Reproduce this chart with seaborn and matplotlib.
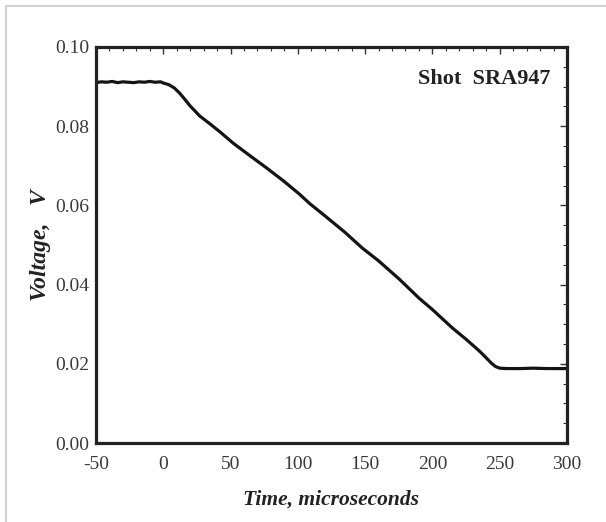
import numpy as np
import pandas as pd
import matplotlib.pyplot as plt
import seaborn as sns
from matplotlib.ticker import MultipleLocator
from matplotlib.lines import Line2D

# Values
time_us = [-50, -46, -42, -38, -34, -30, -26, -22, -18, -14, -10, -6, -2, 0,
           4, 8, 12, 16, 20, 27, 35, 42, 52, 65, 77, 90, 101, 109, 120, 135, 148,
           160, 175, 190, 200, 215, 225, 235, 240, 244, 247, 250, 255,
           265, 275, 285, 295, 300]
voltage = [0.0910, 0.0912, 0.0911, 0.0913, 0.0910, 0.0912, 0.0911, 0.0910,
           0.0912, 0.0911, 0.0913, 0.0911, 0.0912, 0.0909,
           0.0905, 0.0897, 0.0884, 0.0868, 0.0851, 0.0826, 0.0805, 0.0786,
           0.0757, 0.0724, 0.0694,
           0.0660, 0.0629, 0.0604, 0.0574, 0.0532, 0.0492,
           0.0460, 0.0415, 0.0366, 0.0337, 0.0290, 0.0262, 0.0232, 0.0215,
           0.0201, 0.0193, 0.0189, 0.0188,
           0.0188, 0.0189, 0.0188, 0.0188, 0.0188]

x_ticks = [-50, 0, 50, 100, 150, 200, 250, 300]
y_ticks = [0.00, 0.02, 0.04, 0.06, 0.08, 0.10]

df = pd.DataFrame({"t": time_us, "v": voltage})

sns.set_style("white")
plt.rcParams["font.family"] = ["Liberation Serif", "DejaVu Serif"]

fig = plt.figure(figsize=(6.06, 5.22), dpi=100)
ax = fig.add_axes([0.1584, 0.1513, 0.7772, 0.7587])

sns.lineplot(data=df, x="t", y="v", ax=ax, color="#141414", linewidth=2.3)

ax.set_xlim(-50, 300)
ax.set_ylim(0, 0.10)
ax.set_xticks(x_ticks)
ax.set_yticks(y_ticks)
ax.set_xticklabels([str(t) for t in x_ticks])
ax.set_yticklabels([f"{v:.2f}" for v in y_ticks])
ax.xaxis.set_minor_locator(MultipleLocator(10))
ax.yaxis.set_minor_locator(MultipleLocator(0.005))
ax.tick_params(which="both", direction="in", top=True, right=True,
               color="#333333", labelsize=14, labelcolor="#3a3a3a")
ax.tick_params(axis="x", which="major", pad=9)
ax.tick_params(axis="y", which="major", pad=5)
ax.tick_params(which="major", length=5, width=1)
ax.tick_params(which="minor", length=3, width=0.8)
for s in ax.spines.values():
    s.set_linewidth(2.3)
    s.set_color("#222222")

ax.set_xlabel("Time, microseconds", fontsize=15.5, fontweight="bold",
              fontstyle="italic", color="#222222", labelpad=12)
ax.set_ylabel("Voltage,   V", fontsize=17, fontweight="bold",
              fontstyle="italic", color="#222222", labelpad=3)

ax.text(0.964, 0.919, "Shot  SRA947", transform=ax.transAxes, ha="right",
        va="center", fontsize=16, fontweight="bold", color="#222222")

# light grey page frame (top and left edges)
fig.add_artist(Line2D([6 / 606, 1], [1 - 6 / 522, 1 - 6 / 522],
                      transform=fig.transFigure, color="#c8c8c8", linewidth=1.2))
fig.add_artist(Line2D([6 / 606, 6 / 606], [0, 1 - 6 / 522],
                      transform=fig.transFigure, color="#c8c8c8", linewidth=1.2))

fig.savefig("out.png", dpi=100)
